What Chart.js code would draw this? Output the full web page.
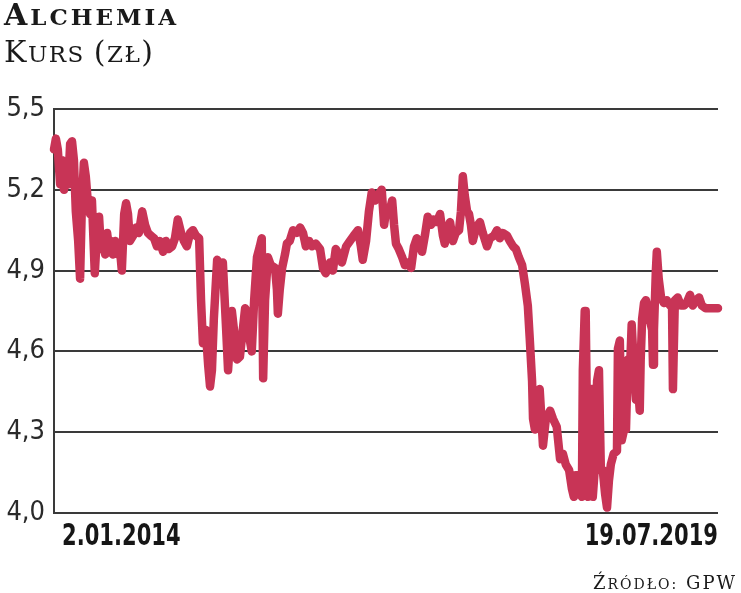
<!DOCTYPE html>
<html>
<head>
<meta charset="utf-8">
<script src="https://cdn.jsdelivr.net/npm/chart.js@4"></script>
<style>
  html, body { margin: 0; padding: 0; background: #fff; }
  #wrap { position: relative; width: 741px; height: 593px; overflow: hidden; }
  canvas { position: absolute; left: 0; top: 0; }
  .ttl { position: absolute; left: 4px; font-family: "DejaVu Serif", serif; color: #1a1a1a; white-space: nowrap; }
  .t1 { top: 0px; font-weight: bold; font-size: 30px; line-height: 30px; letter-spacing: 3px; }
  .t2 { top: 37px; font-size: 30px; line-height: 30px; letter-spacing: 1.5px; }
  .sm { font-size: 23px; }
  .src { position: absolute; right: 4px; top: 574px; font-family: "DejaVu Serif", serif; color: #1a1a1a; font-size: 18px; line-height: 18px; letter-spacing: 2px; white-space: nowrap; }
  .src .sm { font-size: 14px; }
</style>
</head>
<body>
<div id="wrap">
  <canvas id="c" width="741" height="593"></canvas>
  <div class="ttl t1">A<span class="sm">LCHEMIA</span></div>
  <div class="ttl t2">K<span class="sm">URS </span>(<span class="sm">ZŁ</span>)</div>
  <div class="src">Ź<span class="sm">RÓDŁO:</span> GPW</div>
</div>
<script>
// Session index (trading days since 2.01.2014) and closing price in zł
const sessions = [0,4,8,13,17,21,25,30,34,38,42,46,51,55,59,63,67,72,76,80,84,86,91,95,99,103,108,112,116,120,124,129,135,139,143,148,152,156,160,167,173,179,186,192,198,204,211,217,223,230,236,242,249,255,261,268,274,280,287,293,299,306,310,314,320,325,329,333,337,344,350,356,363,367,371,375,382,386,392,398,403,409,413,417,422,428,434,438,441,445,451,457,466,470,472,476,481,487,491,497,504,512,519,525,531,538,544,552,561,567,573,582,588,594,601,607,616,624,632,641,647,651,658,664,670,677,683,691,696,700,706,713,717,721,727,734,740,746,753,759,765,772,776,782,788,795,801,807,814,820,824,828,835,841,847,854,858,862,866,871,875,879,883,890,898,904,913,919,928,934,940,946,955,961,968,974,980,987,993,999,1003,1008,1010,1014,1018,1024,1031,1037,1046,1052,1060,1067,1073,1079,1086,1092,1096,1100,1107,1113,1115,1119,1121,1124,1126,1130,1134,1136,1140,1145,1149,1153,1157,1162,1166,1170,1174,1180,1187,1189,1193,1197,1202,1206,1210,1214,1218,1223,1227,1231,1235,1237,1240,1244,1248,1252,1256,1261,1263,1265,1269,1271,1275,1280,1286,1292,1299,1303,1305,1309,1315,1322,1328,1334,1341,1347,1353,1360,1366,1374,1383,1391,1400];
const prices = [5.35,5.39,5.35,5.22,5.31,5.20,5.29,5.22,5.37,5.38,5.31,5.12,5.01,4.87,5.16,5.30,5.25,5.14,5.11,5.16,4.98,4.89,5.05,5.10,4.98,5.01,4.96,5.04,4.98,5.01,4.96,5.01,4.96,4.98,4.90,5.11,5.15,5.11,5.01,5.03,5.06,5.04,5.12,5.07,5.04,5.03,5.02,4.99,5.01,4.97,5.01,4.98,4.99,5.02,5.09,5.04,5.01,4.99,5.04,5.05,5.03,5.02,4.79,4.63,4.68,4.55,4.47,4.53,4.72,4.94,4.92,4.93,4.68,4.53,4.64,4.75,4.64,4.57,4.58,4.68,4.76,4.74,4.64,4.60,4.79,4.95,4.99,5.02,4.50,4.79,4.95,4.92,4.91,4.83,4.74,4.83,4.91,4.96,5.00,5.01,5.05,5.04,5.06,5.04,4.99,5.01,4.99,5.00,4.98,4.91,4.89,4.93,4.90,4.98,4.96,4.93,4.99,5.01,5.03,5.05,4.99,4.94,5.01,5.12,5.19,5.16,5.18,5.20,5.07,5.12,5.11,5.16,5.07,5.00,4.98,4.95,4.92,4.93,4.91,4.99,5.02,4.99,4.97,5.03,5.10,5.07,5.09,5.08,5.11,5.03,5.00,5.05,5.08,5.01,5.04,5.05,5.12,5.25,5.18,5.12,5.11,5.07,5.01,5.06,5.08,5.04,4.99,5.02,5.03,5.05,5.02,5.04,5.03,5.01,4.99,4.98,4.95,4.92,4.85,4.77,4.65,4.49,4.35,4.31,4.44,4.46,4.25,4.35,4.38,4.35,4.32,4.20,4.22,4.18,4.16,4.09,4.06,4.14,4.14,4.06,4.53,4.75,4.75,4.31,4.06,4.12,4.46,4.06,4.16,4.49,4.53,4.16,4.16,4.07,4.02,4.12,4.18,4.22,4.23,4.61,4.64,4.27,4.31,4.31,4.57,4.51,4.70,4.53,4.42,4.48,4.38,4.57,4.72,4.78,4.79,4.76,4.72,4.68,4.55,4.68,4.90,4.97,4.87,4.80,4.78,4.79,4.77,4.78,4.46,4.79,4.80,4.77,4.77,4.78,4.81,4.77,4.79,4.80,4.77,4.76,4.76,4.76,4.76];
const xTickLabels = ["2.01.2014", "19.07.2019"];
const yMin = 4.0, yMax = 5.5, yStep = 0.3;

const points = sessions.map((s, i) => ({ x: s, y: prices[i] }));

const dateLabels = {
  id: 'dateLabels',
  afterDraw(chart) {
    const { ctx, chartArea } = chart;
    const sx = 0.68;
    ctx.save();
    ctx.fillStyle = '#161616';
    ctx.font = 'bold 31px "DejaVu Sans", sans-serif';
    ctx.textBaseline = 'alphabetic';
    ctx.scale(sx, 1);
    ctx.textAlign = 'left';
    ctx.fillText(xTickLabels[0], (chartArea.left + 8) / sx, 545);
    ctx.textAlign = 'right';
    ctx.fillText(xTickLabels[1], (chartArea.right) / sx, 545);
    ctx.restore();
  }
};

new Chart(document.getElementById('c'), {
  type: 'line',
  data: {
    datasets: [{
      data: points,
      borderColor: '#c83456',
      borderWidth: 8.5,
      borderJoinStyle: 'round',
      borderCapStyle: 'round',
      pointRadius: 0,
      tension: 0,
      fill: false,
      clip: false
    }]
  },
  options: {
    responsive: false,
    devicePixelRatio: 1,
    animation: false,
    layout: { padding: { top: 109, bottom: 80, left: 0, right: 23 } },
    plugins: { legend: { display: false }, tooltip: { enabled: false }, title: { display: false } },
    scales: {
      x: {
        type: 'linear',
        display: false,
        min: sessions[0],
        max: sessions[sessions.length - 1]
      },
      y: {
        min: yMin,
        max: yMax,
        afterFit(scale) { scale.width = 54; },
        border: { display: true, color: '#3a3a3a', width: 2 },
        grid: { color: '#3a3a3a', lineWidth: 2, drawTicks: false },
        ticks: {
          stepSize: yStep,
          padding: 9,
          color: '#2a2a2a',
          font: { family: '"DejaVu Sans Condensed", "DejaVu Sans", sans-serif', size: 27 },
          callback: v => v.toFixed(1).replace('.', ',')
        }
      }
    }
  },
  plugins: [dateLabels]
});
</script>
</body>
</html>
